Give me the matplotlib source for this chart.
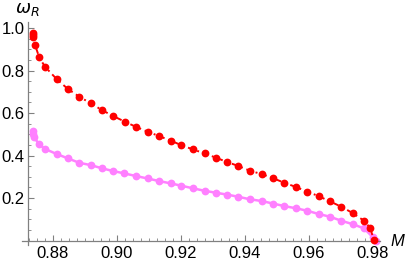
import numpy as np
import matplotlib
matplotlib.use("Agg")
from matplotlib import pyplot as plt
from matplotlib.ticker import MultipleLocator

# red series (upper branch)
m_red = [0.8737, 0.8737, 0.8737, 0.8744, 0.8757, 0.8775, 0.8812, 0.8846, 0.8882,
         0.8918, 0.8953, 0.8988, 0.9025, 0.9058, 0.9096, 0.9131, 0.9168, 0.9201,
         0.9237, 0.9274, 0.9309, 0.9345, 0.9379, 0.9416, 0.9452, 0.9488, 0.9523,
         0.9559, 0.9595, 0.9630, 0.9666, 0.9701, 0.9737, 0.9772, 0.9791, 0.9803]
w_red = [0.976, 0.967, 0.958, 0.920, 0.862, 0.818, 0.759, 0.714, 0.677,
         0.646, 0.614, 0.586, 0.559, 0.536, 0.512, 0.492, 0.470, 0.449,
         0.429, 0.410, 0.390, 0.369, 0.351, 0.328, 0.313, 0.293, 0.272,
         0.252, 0.230, 0.209, 0.184, 0.159, 0.129, 0.093, 0.060, 0.002]

# magenta series (lower branch)
m_mag = [0.8737, 0.8738, 0.8740, 0.8757, 0.8775, 0.8812, 0.8846, 0.8882, 0.8918,
         0.8953, 0.8988, 0.9023, 0.9058, 0.9096, 0.9131, 0.9168, 0.9201, 0.9237,
         0.9274, 0.9309, 0.9345, 0.9379, 0.9416, 0.9452, 0.9488, 0.9523, 0.9559,
         0.9595, 0.9630, 0.9666, 0.9701, 0.9737, 0.9772, 0.9800, 0.9808]
w_mag = [0.515, 0.501, 0.487, 0.453, 0.431, 0.407, 0.387, 0.366, 0.355,
         0.340, 0.327, 0.316, 0.304, 0.292, 0.280, 0.269, 0.258, 0.246,
         0.234, 0.225, 0.216, 0.206, 0.194, 0.186, 0.174, 0.162, 0.152,
         0.140, 0.125, 0.112, 0.093, 0.077, 0.057, 0.015, 0.000]

xticks = [0.88, 0.90, 0.92, 0.94, 0.96, 0.98]
yticks = [0.2, 0.4, 0.6, 0.8, 1.0]

plt.rcParams['font.family'] = ['Liberation Sans', 'DejaVu Sans']

fig = plt.figure(figsize=(4.09, 2.63), dpi=100)
ax = fig.add_axes([21.7 / 409, 18 / 263, (380 - 21.7) / 409, (245 - 21.7) / 263])

ax.plot(m_mag, w_mag, color='#ff80ff', lw=1.8, marker='o', ms=5.6, mec='none', zorder=2)
ax.plot(m_red, w_red, color='#ff0000', lw=1.4, dashes=(3, 2, 1, 2), marker='o', ms=5.6,
        mec='none', zorder=3)

ax.set_xlim(0.87022, 0.98219)
ax.set_ylim(-0.021, 1.03)

for s in ['top', 'right']:
    ax.spines[s].set_visible(False)
ax.spines['left'].set_position(('data', 0.87234))
ax.spines['bottom'].set_position(('data', 0.0))
for s in ['left', 'bottom']:
    ax.spines[s].set_color('#808080')
    ax.spines[s].set_linewidth(0.9)

ax.set_xticks(xticks)
ax.set_xticklabels(['%.2f' % v for v in xticks])
ax.set_yticks(yticks)
ax.set_yticklabels(['%.1f' % v for v in yticks])
ax.xaxis.set_minor_locator(MultipleLocator(0.0025))
ax.yaxis.set_minor_locator(MultipleLocator(0.05))
ax.tick_params(which='both', direction='in', color='#808080', labelsize=12)
ax.tick_params(which='major', length=4, width=0.8)
ax.tick_params(which='minor', length=2.5, width=0.6)
ax.tick_params(axis='x', pad=4)
ax.tick_params(axis='y', pad=3)

fig.text(27 / 409, 1 - 9 / 263, r'$\omega_R$', fontsize=13, ha='center', va='center')
fig.text(397 / 409, 1 - 242 / 263, 'M', fontsize=12, style='italic', ha='center', va='center')

fig.savefig('out.png', dpi=100)
